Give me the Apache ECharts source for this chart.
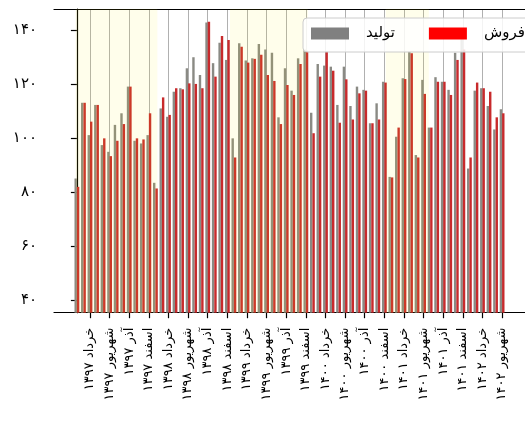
<!DOCTYPE html>
<html><head><meta charset="utf-8">
<script src="https://cdn.jsdelivr.net/npm/echarts@6/dist/echarts.min.js"></script>
<style>html,body{margin:0;padding:0;background:#fff}#c{width:525px;height:421px}</style>
</head><body><div id="c"></div>
<script>
// month index 0 = فروردین ۱۳۹۷ ... 65 = شهریور ۱۴۰۲
const tickMonths = [2,5,8,11,14,17,20,23,26,29,32,35,38,41,44,47,50,53,56,59,62,65];
const tickLabels = [
 'خرداد ۱۳۹۷','شهریور ۱۳۹۷','آذر ۱۳۹۷','اسفند ۱۳۹۷',
 'خرداد ۱۳۹۸','شهریور ۱۳۹۸','آذر ۱۳۹۸','اسفند ۱۳۹۸',
 'خرداد ۱۳۹۹','شهریور ۱۳۹۹','آذر ۱۳۹۹','اسفند ۱۳۹۹',
 'خرداد ۱۴۰۰','شهریور ۱۴۰۰','آذر ۱۴۰۰','اسفند ۱۴۰۰',
 'خرداد ۱۴۰۱','شهریور ۱۴۰۱','آذر ۱۴۰۱','اسفند ۱۴۰۱',
 'خرداد ۱۴۰۲','شهریور ۱۴۰۲'
];
const production = [85.1,113.2,101.2,112.4,97.5,95,105,109.3,119.2,99.1,98.1,101.2,
 83.5,111.1,108,117.3,118.6,126,130.1,123.5,143,127.9,135.5,129.1,
 100,135.3,128.9,129.7,135,133,131.8,107.8,126,117.7,129.7,133,
 109.5,127.6,127,126.6,112.4,126.6,112,119.2,118,105.6,113,121,
 85.7,100.6,122.3,132.2,93.8,121.7,104,122.7,121,118,131.8,139,
 88.8,117.7,118.6,112,103.3,110.8];
const sales = [82,113.2,106.2,112.4,100,93.4,99.1,105.3,119.2,100,99.6,109.3,
 81.4,115.2,108.7,118.6,118.2,120.4,120.2,118.6,143.3,122.9,138,136.5,
 92.9,134,128.1,129.5,131,123.5,121.3,105.3,119.8,116.1,127.6,132.5,
 101.9,122.9,132.2,125.1,105.8,121.9,107,116.7,117.7,105.6,107,120.7,
 85.5,104,122,131.6,92.9,116.5,104,121,121,116.1,129.1,133,
 92.9,120.7,118.6,117.3,107.8,109.3];
const shadedSpans = [[-0.2,12.3],[23.4,35.3],[47.2,53.8]];
const yTicks = [40,60,80,100,120,140];
const yTickLabels = ['۴۰','۶۰','۸۰','۱۰۰','۱۲۰','۱۴۰'];
const seriesNames = ['تولید','فروش'];

const FONT = "'DejaVu Sans', sans-serif";
const chart = echarts.init(document.getElementById('c'), null, {renderer:'canvas'});
const xMin = -3.5, xMax = 68.5;
chart.setOption({
  animation:false,
  backgroundColor:'#fff',
  grid:{left:54, top:9, width:484.5, height:303.7, containLabel:false},
  legend:{
    left:303, top:18, width:215, orient:'horizontal', icon:'rect',
    padding:[8,12,11,8], itemWidth:38, itemHeight:12, itemGap:34,
    backgroundColor:'rgba(255,255,255,0.85)', borderColor:'#cccccc', borderWidth:1, borderRadius:4,
    textStyle:{fontFamily:FONT, fontSize:15, color:'#000', padding:[0,0,0,12]},
    data:[{name:seriesNames[0], itemStyle:{color:'#808080'}},{name:seriesNames[1], itemStyle:{color:'#ff0000'}}],
    z:10
  },
  xAxis:[{
    type:'value', min:xMin, max:xMax, position:'bottom',
    axisLine:{show:true, onZero:false, lineStyle:{color:'#000', width:1.2}},
    axisTick:{show:true, length:5.5, customValues:tickMonths, lineStyle:{color:'#000', width:1.2}},
    axisLabel:{show:true, customValues:tickMonths, rotate:90, margin:15, fontFamily:FONT, fontSize:13, color:'#000',
      formatter:function(v){const k=tickMonths.indexOf(Math.round(v)); return k>=0?tickLabels[k]:'';}},
    splitLine:{show:true, lineStyle:{color:'#b0b0b0', width:1}}
  },{
    type:'value', min:xMin, max:xMax, position:'top',
    axisLine:{show:true, onZero:false, lineStyle:{color:'#000', width:1.2}},
    axisTick:{show:false}, axisLabel:{show:false}, splitLine:{show:false}
  }],
  yAxis:{
    type:'value', min:35.3, max:148,
    axisLine:{show:true, lineStyle:{color:'#000', width:1.2}},
    axisTick:{show:true, length:6, customValues:yTicks, lineStyle:{color:'#000', width:1.2}},
    axisLabel:{show:true, customValues:yTicks, margin:17, fontFamily:FONT, fontSize:15, color:'#000',
      formatter:function(v){const k=yTicks.indexOf(Math.round(v)); return k>=0?yTickLabels[k]:'';}},
    splitLine:{show:false}
  },
  series:[{
    name:seriesNames[0], type:'bar', xAxisIndex:0, barWidth:2.4, barGap:'0%',
    itemStyle:{color:'#8a8a84'},
    data:production.map((v,i)=>[i,v]),
    markArea:{silent:true, z:5, itemStyle:{color:'rgba(255,245,0,0.08)'},
      data:shadedSpans.map(s=>[{xAxis:s[0]},{xAxis:s[1]}])}
  },{
    name:seriesNames[1], type:'bar', xAxisIndex:0, barWidth:2.4, barGap:'0%',
    itemStyle:{color:'#c82a2c'},
    data:sales.map((v,i)=>[i,v])
  }]
});
</script></body></html>
